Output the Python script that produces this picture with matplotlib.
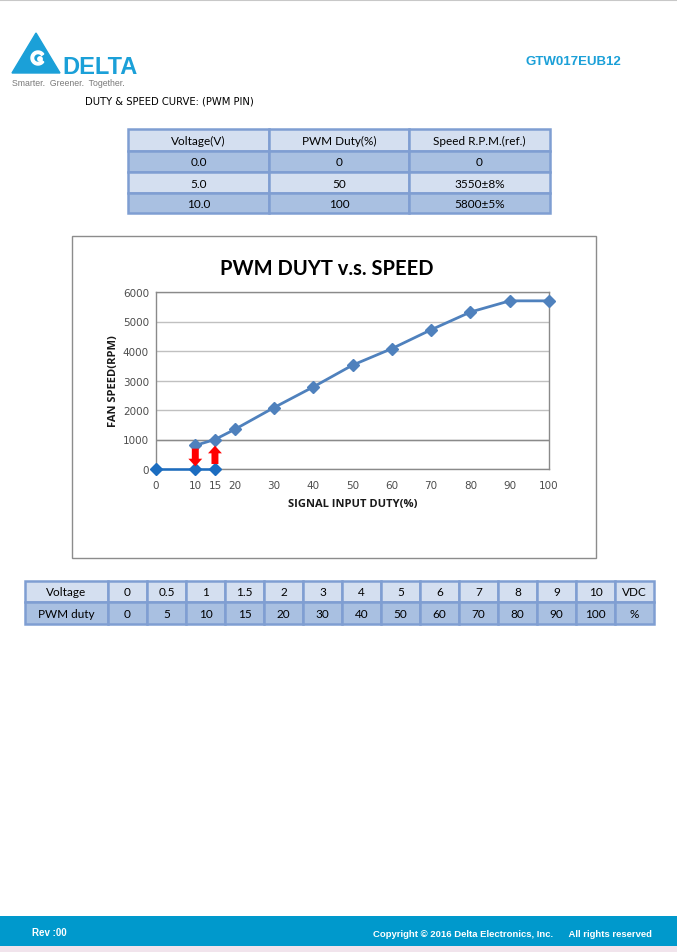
import matplotlib.pyplot as plt
from matplotlib.patches import Rectangle, Polygon, Wedge, Circle

duty = [10, 15, 20, 30, 40, 50, 60, 70, 80, 90, 100]
speed = [800, 1000, 1340, 2080, 2780, 3520, 4080, 4720, 5320, 5700, 5700]
off_duty = [0, 10, 15]
off_speed = [0, 0, 0]
x_ticks = [0, 10, 15, 20, 30, 40, 50, 60, 70, 80, 90, 100]
y_ticks = [0, 1000, 2000, 3000, 4000, 5000, 6000]

# hysteresis arrows: (x, start rpm, end rpm)
arrows = [(10, 690, 90), (15, 170, 790)]

top_header = ['Voltage(V)', 'PWM Duty(%)', 'Speed R.P.M.(ref.)']
top_rows = [['0.0', '0', '0'],
            ['5.0', '50', '3550±8%'],
            ['10.0', '100', '5800±5%']]

volt_row = ['Voltage', '0', '0.5', '1', '1.5', '2', '3', '4', '5', '6', '7', '8', '9', '10', 'VDC']
pwm_row = ['PWM duty', '0', '5', '10', '15', '20', '30', '40', '50', '60', '70', '80', '90', '100', '%']

W, H = 677, 953
LIGHT = '#d4dff0'
DARK = '#a9c0e1'
EDGE = '#7f9ed2'
BLUE = '#1ba0d8'

fig = plt.figure(figsize=(W / 100, H / 100), dpi=100)
page = fig.add_axes([0, 0, 1, 1])
page.set_xlim(0, W)
page.set_ylim(H, 0)
page.axis('off')

# top rule
page.plot([0, W], [0.5, 0.5], color='#c8c8c8', lw=1.5)

# logo
page.add_patch(Polygon([(12, 74), (36, 34), (60, 74)], closed=True, color=BLUE))
page.add_patch(Wedge((38, 59), 7, 35, 325, width=2.6, color='white'))
page.add_patch(Circle((40, 60), 2.2, color='white'))
page.text(62, 74, 'DELTA', fontsize=17, fontweight='bold', color=BLUE,
          family='Liberation Sans', va='baseline', ha='left')
page.text(12, 83, 'Smarter.  Greener.  Together.', fontsize=6.3, color='#7a7a7a',
          family='Liberation Sans', va='center', ha='left')
page.text(573, 62, 'GTW017EUB12', fontsize=9.5, fontweight='bold', color=BLUE,
          family='Liberation Sans', va='center', ha='center')
page.text(85, 101, 'DUTY & SPEED CURVE: (PWM PIN)', fontsize=7.2, color='#000000',
          family='DejaVu Sans', va='center', ha='left')

# top table
tx = [128, 269, 409, 550]
ty = [130, 152, 173, 194, 214]
all_rows = [top_header] + top_rows
for r, row in enumerate(all_rows):
    fill = LIGHT if r % 2 == 0 else DARK
    for c, val in enumerate(row):
        page.add_patch(Rectangle((tx[c], ty[r]), tx[c + 1] - tx[c], ty[r + 1] - ty[r],
                                 facecolor=fill, edgecolor=EDGE, lw=1.8))
        page.text((tx[c] + tx[c + 1]) / 2, (ty[r] + ty[r + 1]) / 2 + 0.5, val,
                  fontsize=8.5, color='#000000', family='Lato',
                  ha='center', va='center')

# bottom table
bx = [25, 108] + [108 + 39.0 * (i + 1) for i in range(14)]
by = [582, 603, 625]
for r, (row, fill) in enumerate([(volt_row, LIGHT), (pwm_row, DARK)]):
    for c, val in enumerate(row):
        page.add_patch(Rectangle((bx[c], by[r]), bx[c + 1] - bx[c], by[r + 1] - by[r],
                                 facecolor=fill, edgecolor=EDGE, lw=1.8))
        page.text((bx[c] + bx[c + 1]) / 2, (by[r] + by[r + 1]) / 2 + 0.5, val,
                  fontsize=8.5, color='#000000', family='Lato',
                  ha='center', va='center')

# chart frame
page.add_patch(Rectangle((72, 237), 524, 322, facecolor='white', edgecolor='#8c8c8c', lw=1))
page.text(327, 269, 'PWM DUYT v.s. SPEED', fontsize=14.5, fontweight='bold',
          family='Lato', ha='center', va='center', color='black')

# footer
page.add_patch(Rectangle((0, 917), W, 30, facecolor='#0099cc', edgecolor='none'))
page.add_patch(Rectangle((0, 947), W, 6, facecolor='#f1e4ec', edgecolor='none'))
page.text(32, 933, 'Rev :00', fontsize=7, fontweight='bold', color='white',
          family='Liberation Sans', ha='left', va='center')
page.text(652, 935, 'Copyright \u00a9 2016 Delta Electronics, Inc.      All rights reserved',
          fontsize=6.8, fontweight='bold', color='white', family='Liberation Sans',
          ha='right', va='center')

# chart axes
L, R, T, B = 156, 549, 293, 470
ax = fig.add_axes([L / W, 1 - B / H, (R - L) / W, (B - T) / H])
ax.set_xlim(0, 100)
ax.set_ylim(0, 6000)
ax.set_xticks(x_ticks)
ax.set_yticks(y_ticks)
ax.grid(axis='y', color='#c0c0c0', lw=1)
ax.axhline(1000, color='#8a8a8a', lw=1)
for s in ax.spines.values():
    s.set_color('#8a8a8a')
    s.set_linewidth(1)
ax.tick_params(length=0, labelsize=7.5, labelcolor='#4d4d4d')
ax.tick_params(axis='y', pad=5)
ax.tick_params(axis='x', pad=8)
for lab in ax.get_xticklabels() + ax.get_yticklabels():
    lab.set_family('DejaVu Sans')

ax.plot(duty, speed, color='#4f81bd', lw=2, marker='D', markersize=6,
        clip_on=False, zorder=4)
ax.plot(off_duty, off_speed, color='#1c6dc0', lw=1.8, marker='D', markersize=6,
        clip_on=False, zorder=5)

for x, y0, y1 in arrows:
    ax.annotate('', xy=(x, y1), xytext=(x, y0),
                arrowprops=dict(arrowstyle='simple,head_width=1.0,head_length=0.55,tail_width=0.5',
                                color='red', lw=0, shrinkA=0, shrinkB=0), zorder=6)

ax.set_xlabel('SIGNAL INPUT DUTY(%)', fontsize=8, fontweight='bold', family='Open Sans',
              labelpad=6, color='#1a1a1a')
ax.set_ylabel('FAN SPEED(RPM)', fontsize=8, fontweight='bold', family='Open Sans',
              labelpad=3, color='#1a1a1a')

fig.savefig('out.png', dpi=100)
